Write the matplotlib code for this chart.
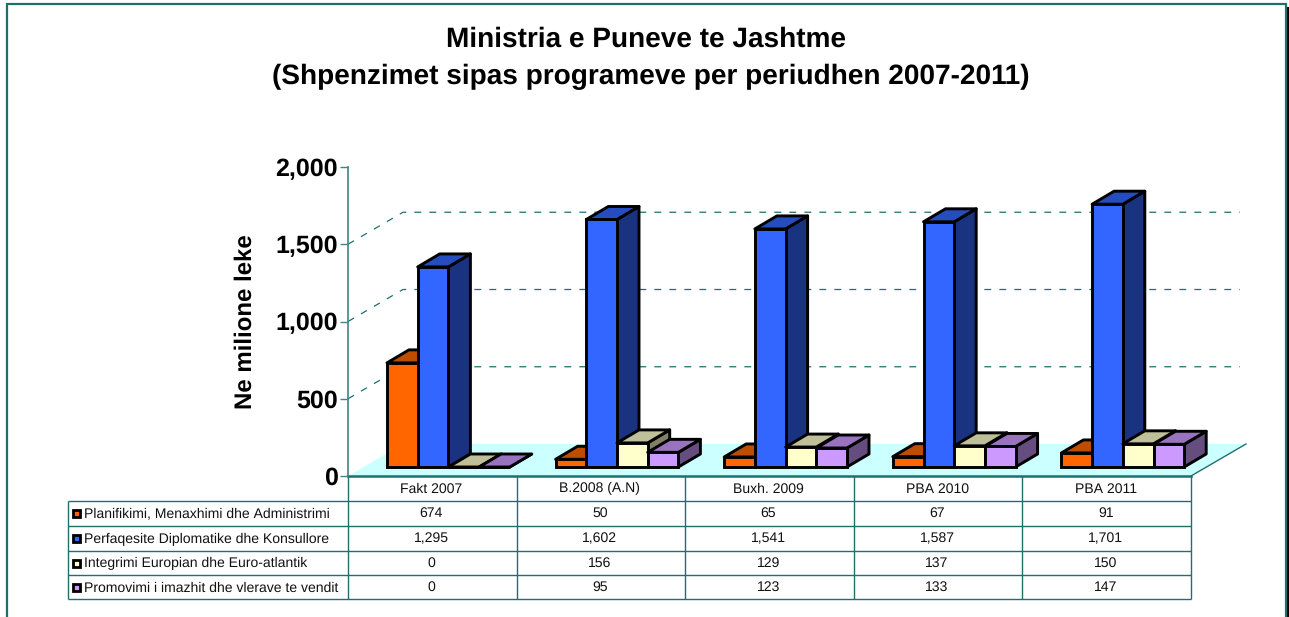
import matplotlib
matplotlib.use('Agg')
import matplotlib.pyplot as plt
from matplotlib.patches import Polygon, Rectangle

plt.rcParams['font.family'] = ['Liberation Sans', 'DejaVu Sans']
plt.rcParams['text.hinting'] = 'no_hinting'
plt.rcParams['text.hinting_factor'] = 1

# data
categories = ['Fakt 2007', 'B.2008 (A.N)', 'Buxh. 2009', 'PBA 2010', 'PBA 2011']
series_names = ['Planifikimi, Menaxhimi dhe Administrimi',
                'Perfaqesite Diplomatike dhe Konsullore',
                'Integrimi Europian dhe Euro-atlantik',
                'Promovimi i imazhit dhe vlerave te vendit']
planifikimi = [674, 50, 65, 67, 91]
perfaqesite = [1295, 1602, 1541, 1587, 1701]
integrimi = [0, 156, 129, 137, 150]
promovimi = [0, 95, 123, 133, 147]
y_ticks = [0, 500, 1000, 1500, 2000]
all_series = [planifikimi, perfaqesite, integrimi, promovimi]

# front, top, side colours of every series
colors = [('#FF6600', '#BF4D00', '#803300'),
          ('#3366FF', '#264DBF', '#1A3380'),
          ('#FFFFCC', '#BFBF99', '#808066'),
          ('#CC99FF', '#9973BF', '#664D80')]
teal = '#1F6F6F'

W, H = 1289, 617
fig = plt.figure(figsize=(W / 100, H / 100), dpi=100)

# overlay in pixels for frame and table
bg = fig.add_axes([0, 0, 1, 1])
bg.set_xlim(0, W)
bg.set_ylim(H, 0)
bg.axis('off')

# chart axes: x in categories, y in value units
left, right, top, bottom = 348, 1191, 167, 476
ax = fig.add_axes([left / W, 1 - bottom / H, (right - left) / W, (bottom - top) / H])
ax.set_xlim(0, len(categories))
ax.set_ylim(0, 2000)
ax.patch.set_alpha(0)
for s in ['top', 'right', 'bottom']:
    ax.spines[s].set_visible(False)
ax.spines['left'].set_color('#3F8585')
ax.spines['left'].set_linewidth(1.2)
ax.set_xticks([])
ax.set_yticks(y_ticks)
ax.set_yticklabels([f'{v:,}' for v in y_ticks], fontsize=18, fontweight='bold')
ax.tick_params(axis='y', length=6, width=1.0, color='#3F8585', pad=1.5)
ax.set_ylabel('Ne milione leke', fontsize=17.5, fontweight='bold', labelpad=13.5)

# 3d offsets
px_x = len(categories) / (right - left)
px_y = 2000 / (bottom - top)
wall_dx, wall_dy = 55 * px_x, 32 * px_y
bar_dx, bar_dy = 22 * px_x, 13 * px_y
base = 9 * px_y
bar_w = 30.7 * px_x
first_bar = 39 * px_x

# floor
ax.add_patch(Polygon([(0, 0), (wall_dx, wall_dy), (5 + wall_dx, wall_dy), (5, 0)],
                     closed=True, fc='#CCFFFF', ec='none', zorder=1, clip_on=False))
ax.plot([0, 5], [0, 0], color=teal, lw=1.8, zorder=2, clip_on=False)
ax.plot([5, 5 + wall_dx], [0, wall_dy], color=teal, lw=1.0, zorder=2, clip_on=False)

# gridlines
for v in y_ticks[1:-1]:
    ax.plot([0, wall_dx, 5 + wall_dx - 6 * px_x], [v, v + wall_dy, v + wall_dy], color=teal, lw=0.9,
            dashes=(5.5, 6.5), zorder=1.5, clip_on=False)


def bar3d(x, val, cols, z):
    y0 = base
    y1 = base + val
    w = bar_w
    ax.add_patch(Polygon([(x + w, y0), (x + w + bar_dx, y0 + bar_dy), (x + w + bar_dx, y1 + bar_dy), (x + w, y1)],
                         closed=True, fc=cols[2], ec='black', lw=2.1, zorder=z, clip_on=False, joinstyle='round'))
    ax.add_patch(Polygon([(x, y1), (x + bar_dx, y1 + bar_dy), (x + w + bar_dx, y1 + bar_dy), (x + w, y1)],
                         closed=True, fc=cols[1], ec='black', lw=2.1, zorder=z, clip_on=False, joinstyle='round'))
    ax.add_patch(Rectangle((x, y0), w, val, fc=cols[0], ec='black', lw=2.1, zorder=z, clip_on=False))


z = 3
for i in range(len(categories)):
    for j, vals in enumerate(all_series):
        bar3d(i + first_bar + j * bar_w, vals[i], colors[j], z)
        z += 1

# table
rows_y = [476, 500.5, 526, 550.5, 575, 599]
cols_x = [left + i * (right - left) / 5 for i in range(6)]
tab_left = 68
tc = dict(color=teal, lw=1.0, solid_capstyle='butt')
bg.plot([tab_left, right], [rows_y[1], rows_y[1]], **tc)
for y in rows_y[2:]:
    bg.plot([tab_left, right], [y, y], **tc)
bg.plot([tab_left, tab_left], [rows_y[1], rows_y[-1]], **tc)
for x in cols_x:
    bg.plot([x, x], [rows_y[0], rows_y[-1]], **tc)
for i, c in enumerate(categories):
    bg.text((cols_x[i] + cols_x[i + 1]) / 2 - 1, (rows_y[0] + rows_y[1]) / 2 + 0.5, c, fontsize=10.1,
            ha='center', va='center', color='#111111')
for j, vals in enumerate(all_series):
    yc = (rows_y[j + 1] + rows_y[j + 2]) / 2
    bg.add_patch(Rectangle((72.5, yc - 3), 7, 7, fc=colors[j][0], ec='black', lw=2.0))
    bg.text(84, yc + 0.8, series_names[j], fontsize=10.25, ha='left', va='center', color='#111111')
    for i, v in enumerate(vals):
        bg.text((cols_x[i] + cols_x[i + 1]) / 2 - 1, yc + 0.3, f'{v:,}', fontsize=10.1,
                ha='center', va='center', color='#111111')

# title
bg.text(646, 39, 'Ministria e Puneve te Jashtme', fontsize=20.1, fontweight='bold', ha='center', va='center')
bg.text(651, 77, '(Shpenzimet sipas programeve per periudhen 2007-2011)', fontsize=20.15, fontweight='bold',
        ha='center', va='center')

# frame
bg.add_patch(Rectangle((1287, 7), 2, H - 7, fc='black', ec='none'))
bg.plot([7, 7, 1286, 1286], [H, 4, 4, H], color=teal, lw=1.6, solid_joinstyle='miter')

fig.savefig('out.png', dpi=100)
